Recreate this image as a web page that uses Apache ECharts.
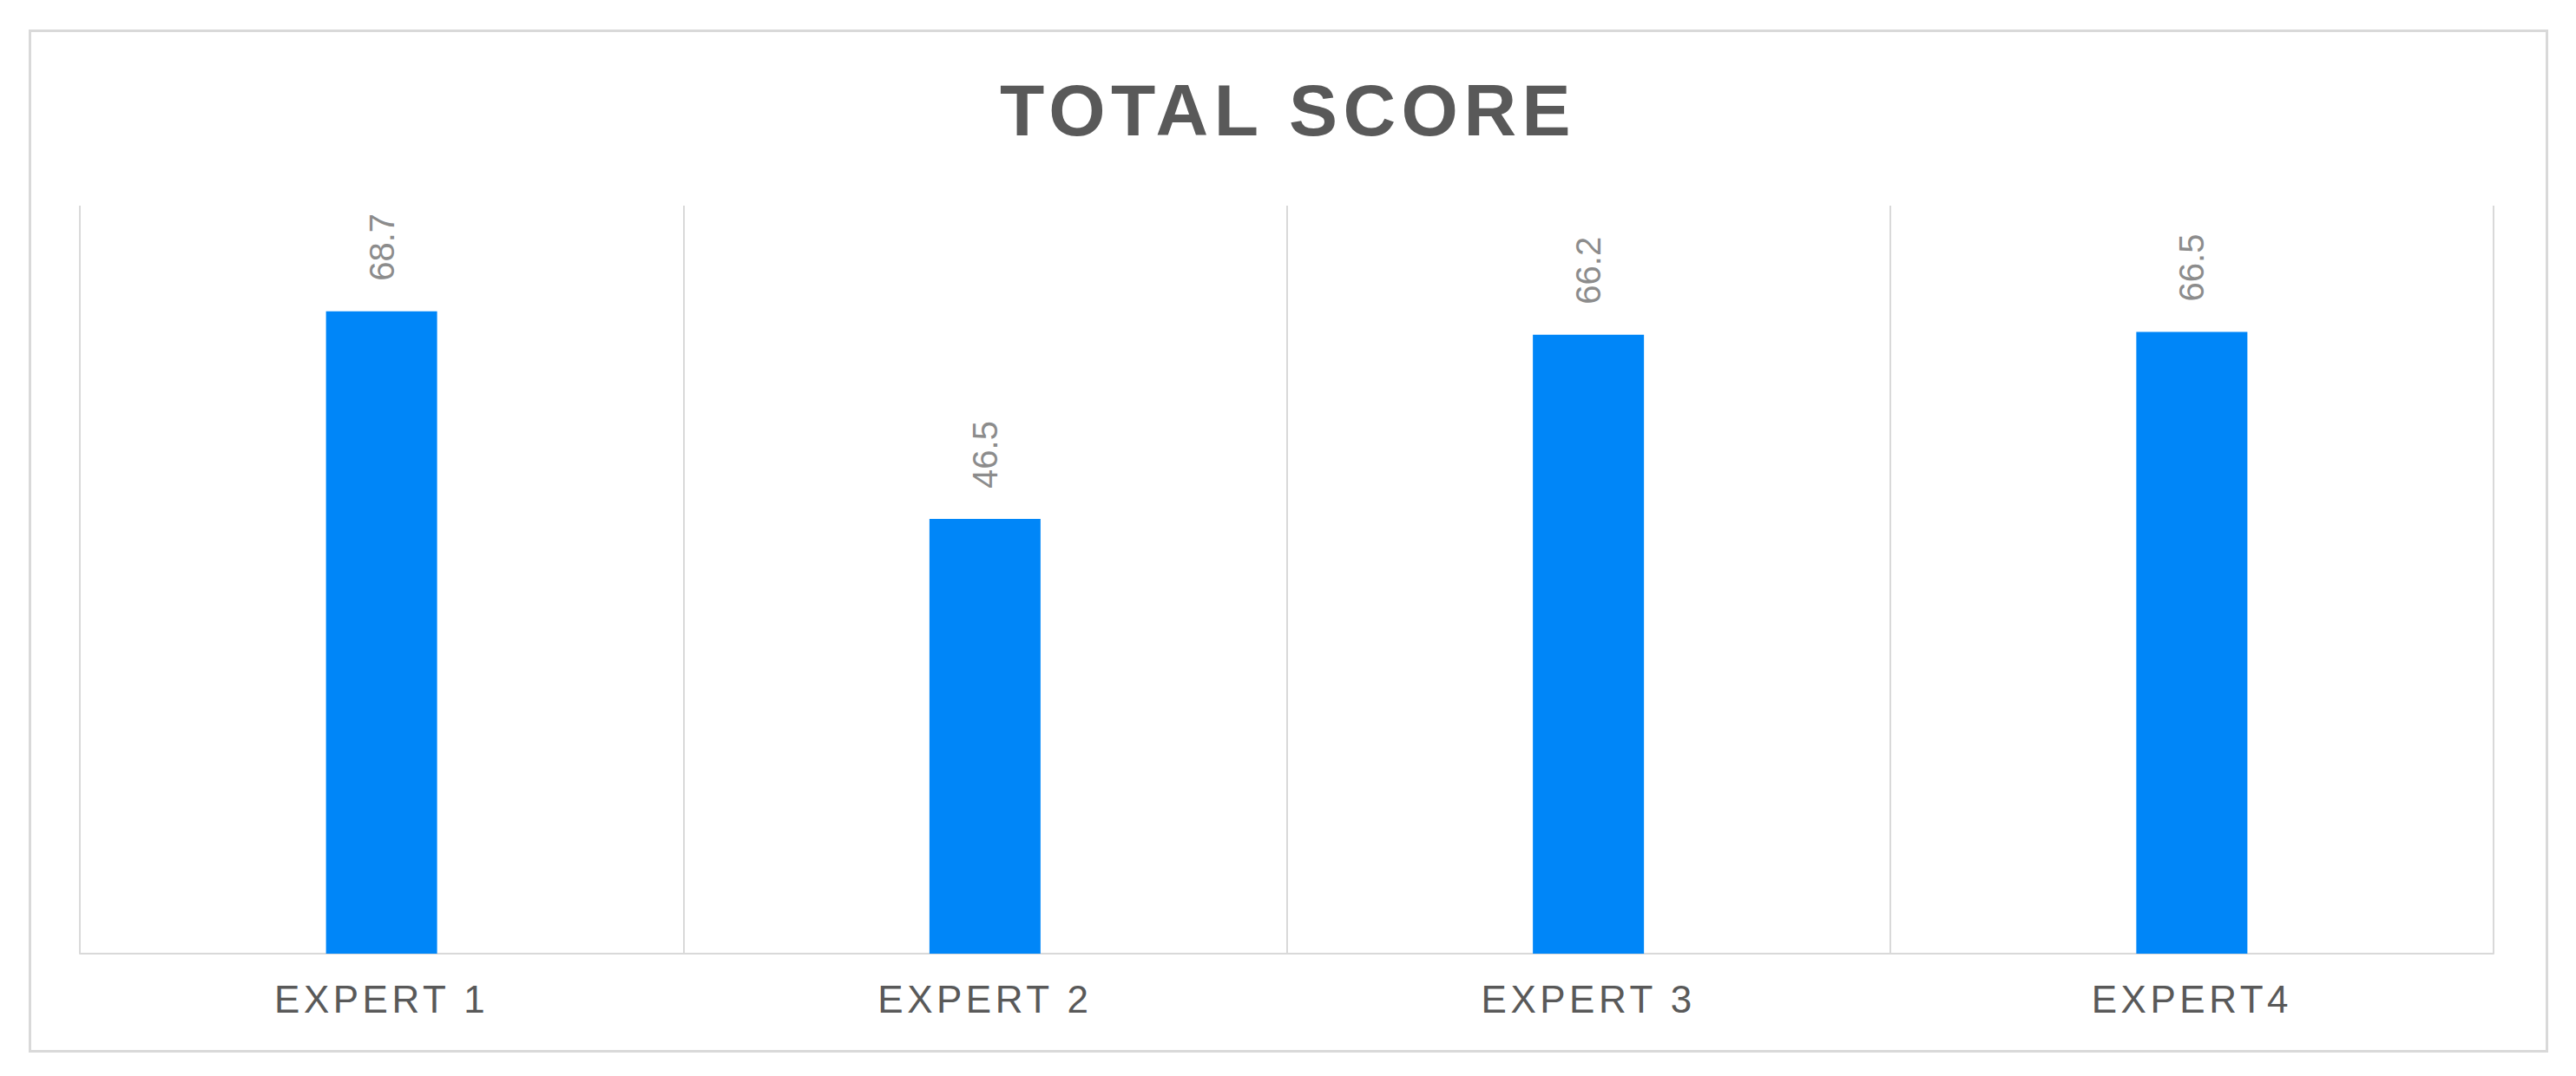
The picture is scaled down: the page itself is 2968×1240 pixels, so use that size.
<!DOCTYPE html>
<html>
<head>
<meta charset="utf-8">
<script src="https://cdn.jsdelivr.net/npm/echarts@6/dist/echarts.min.js"></script>
<style>
  html, body { margin: 0; padding: 0; background: #fff; }
  #main { width: 2968px; height: 1240px; }
  /* title and category labels are spaced out a bit */
  #main text[style*="84px"] { letter-spacing: 6.5px; }
  #main text[style*="44px"] { letter-spacing: 4.5px; }
</style>
</head>
<body>
<div id="main"></div>
<script>
var categories = ['EXPERT 1', 'EXPERT 2', 'EXPERT 3', 'EXPERT4'];
var scores = [68.7, 46.5, 66.2, 66.5];
var titleText = 'TOTAL SCORE';

var myChart = echarts.init(document.getElementById('main'), null, {renderer: 'svg'});

var option = {
    backgroundColor: '#fff',
    animation: false,
    title: {
        text: titleText,
        left: 'center',
        top: 80,
        textStyle: {
            fontFamily: 'Liberation Sans, Arial, sans-serif',
            fontSize: 84,
            fontWeight: 'bold',
            color: '#595959'
        }
    },
    // outer frame of the chart
    graphic: [{
        type: 'rect',
        left: 32,
        top: 33,
        shape: {width: 2900, height: 1176},
        style: {fill: 'none', stroke: '#d9d9d9', lineWidth: 3},
        silent: true
    }],
    grid: {
        left: 92,
        right: 95,
        top: 237,
        bottom: 141
    },
    xAxis: {
        type: 'category',
        data: categories,
        axisTick: {show: false},
        axisLine: {lineStyle: {color: '#d9d9d9', width: 2}},
        splitLine: {show: true, lineStyle: {color: '#d9d9d9', width: 2}},
        axisLabel: {
            margin: 30,
            fontFamily: 'Liberation Sans, Arial, sans-serif',
            fontSize: 44,
            color: '#595959'
        }
    },
    yAxis: {
        type: 'value',
        min: 0,
        max: 80,
        show: false
    },
    series: [{
        type: 'bar',
        data: scores,
        barWidth: 128,
        itemStyle: {color: '#0086f8'},
        label: {
            show: true,
            position: 'top',
            distance: 35,
            rotate: 90,
            align: 'left',
            verticalAlign: 'middle',
            fontFamily: 'Liberation Sans, Arial, sans-serif',
            fontSize: 40,
            color: '#8c8c8c'
        }
    }]
};

myChart.setOption(option);
</script>
</body>
</html>
